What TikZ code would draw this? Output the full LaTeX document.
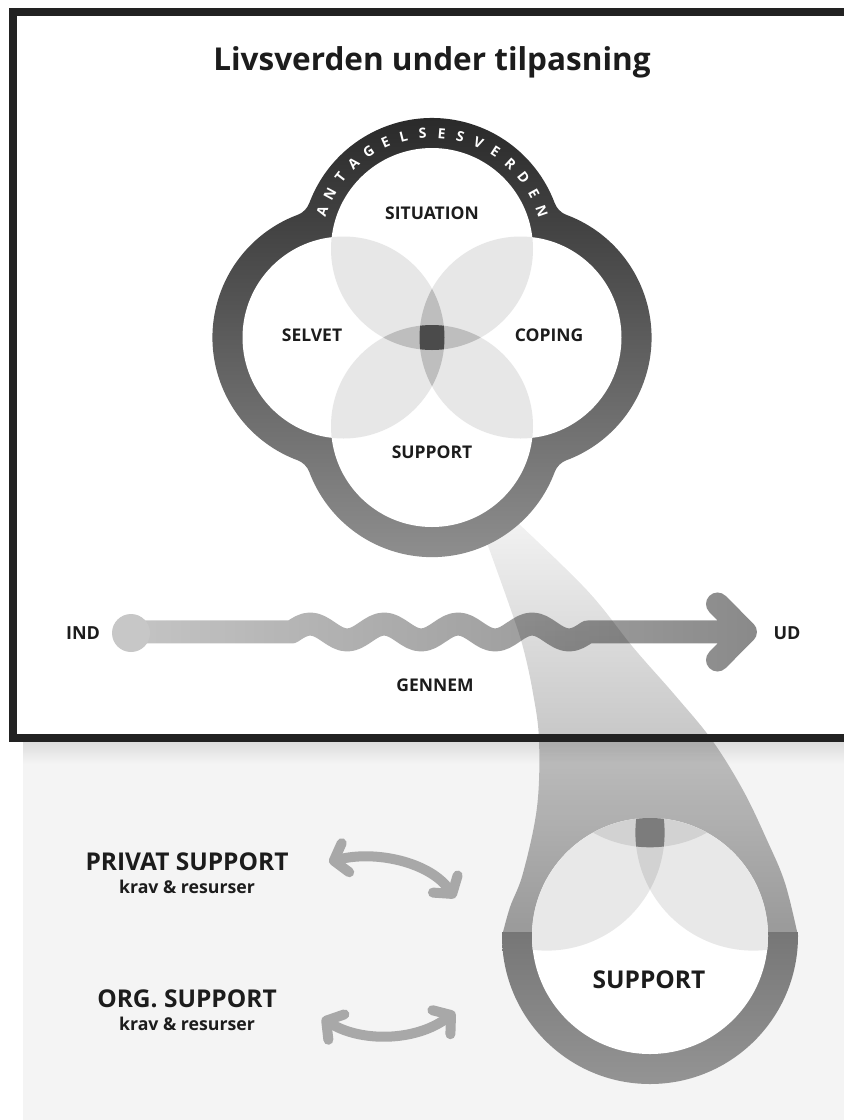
\documentclass[tikz,border=0pt]{standalone}
\usepackage{fontspec}
\setmainfont{Open Sans}
\usetikzlibrary{calc,arrows.meta,fadings}

\definecolor{framec}{HTML}{222222}
\definecolor{panel}{HTML}{F4F4F4}
\definecolor{panelshadow}{HTML}{DCDCDC}
\definecolor{ringtop}{HTML}{262626}
\definecolor{ringmid}{HTML}{414141}
\definecolor{ringbot}{HTML}{929292}
\definecolor{ovA}{HTML}{E7E7E7}
\definecolor{ovB}{HTML}{BEBEBE}
\definecolor{ovC}{HTML}{4B4B4B}
\definecolor{zovA}{HTML}{E8E8E8}
\definecolor{zovB}{HTML}{D2D2D2}
\definecolor{zovC}{HTML}{7C7C7C}
\definecolor{arrowc}{HTML}{8A8A8A}
\definecolor{startc}{HTML}{C7C7C7}
\definecolor{dblc}{HTML}{A8A8A8}
\definecolor{zringtop}{HTML}{5A5A5A}
\definecolor{zringbot}{HTML}{949494}
\definecolor{txt}{HTML}{1C1C1C}

\tikzfading[name=arrowfade, left color=transparent!51, right color=transparent!0]
\tikzfading[name=funnelfade, top color=transparent!95, bottom color=transparent!63]

\begin{document}
\begin{tikzpicture}[x=1pt,y=-1pt,
  lbl/.style={font=\bfseries\fontsize{17.5pt}{20pt}\selectfont, text=txt, inner sep=0pt, anchor=base},
  biglbl/.style={font=\bfseries\fontsize{24.5pt}{28pt}\selectfont, text=txt, inner sep=0pt, anchor=base},
  sublbl/.style={font=\bfseries\fontsize{17.7pt}{20pt}\selectfont, text=txt, inner sep=0pt, anchor=base},
  arcletter/.style={font=\bfseries\fontsize{14pt}{15pt}\selectfont, text=white, inner sep=0pt},
  band/.style={line width=23pt, line cap=round, line join=round},
  dblarrow/.style={draw=dblc, line width=10pt,
     {Straight Barb[length=12pt,width=30pt,round]}-{Straight Barb[length=12pt,width=30pt,round]}},
]
\useasboundingbox (0,0) rectangle (844,1120);
\clip (0,0) rectangle (844,1120);
\fill[white] (0,0) rectangle (844,1120);

% lower panel
\fill[panel] (23,741) rectangle (844,1120);
\shade[top color=panelshadow, bottom color=panel] (23,741) rectangle (844,764);

% IND -> UD arrow
\draw[band, arrowc, path fading=arrowfade] (131,632) -- (292,632)
  sin (310.5,624) cos (329,632) sin (347.5,640) cos (366,632)
  sin (384.5,624) cos (403,632) sin (421.5,640) cos (440,632)
  sin (458.5,624) cos (477,632) sin (495.5,640) cos (514,632)
  sin (532.5,624) cos (551,632) sin (569.5,640) cos (588,632)
  -- (746,632)
  (718,604) -- (746,632) -- (718,660);
\fill[startc] (131,633) circle[radius=19];

% funnel
\fill[black, path fading=funnelfade]
  plot[smooth, tension=0.6] coordinates {(486,540) (510,607) (523,647) (533,693) (539,740) (537,807) (523,873) (510,907) (502,936)}
  -- plot[smooth, tension=0.6] coordinates {(798,936) (785,883) (767,840) (743,790) (712,740) (675,695) (633,647) (587,590) (515,520)}
  -- cycle;

% frame (open to the right)
\draw[framec, line width=8pt, line join=miter, line cap=butt] (848,11.5) -- (13,11.5) -- (13,737.5) -- (848,737.5);

% clover
\coordinate (T) at (432,249);
\coordinate (B) at (432,426);
\coordinate (L) at (343.5,337.5);
\coordinate (R) at (520.5,337.5);
\shade[top color=ringtop, middle color=ringmid, bottom color=ringbot]
  ([shift={(-159.5:131)}]T)
  arc[start angle=-159.5, end angle=-20.5, radius=131]
  arc[start angle=159.5, end angle=110.5, radius=20]
  arc[start angle=-69.5, end angle=69.5, radius=131]
  arc[start angle=249.5, end angle=200.5, radius=20]
  arc[start angle=20.5, end angle=159.5, radius=131]
  arc[start angle=339.5, end angle=290.5, radius=20]
  arc[start angle=110.5, end angle=249.5, radius=131]
  arc[start angle=69.5, end angle=20.5, radius=20] -- cycle;
\fill[white] (T) circle[radius=101] (B) circle[radius=101] (L) circle[radius=101] (R) circle[radius=101];
\begin{scope}
  \clip (T) circle[radius=101];
  \fill[ovA] (L) circle[radius=101] (R) circle[radius=101];
\end{scope}
\begin{scope}
  \clip (B) circle[radius=101];
  \fill[ovA] (L) circle[radius=101] (R) circle[radius=101];
\end{scope}
\begin{scope}
  \clip (T) circle[radius=101];
  \fill[ovB] (B) circle[radius=101];
\end{scope}
\begin{scope}
  \clip (L) circle[radius=101];
  \fill[ovB] (R) circle[radius=101];
\end{scope}
\begin{scope}
  \clip (T) circle[radius=101];
  \clip (B) circle[radius=101];
  \clip (L) circle[radius=101];
  \fill[ovC] (R) circle[radius=101];
\end{scope}

% arc lettering
\foreach \ch [count=\i from 0] in {A,N,T,A,G,E,L,S,E,S,V,E,R,D,E,N} {
  \pgfmathsetmacro\ang{-161+\i*9.4667}
  \pgfmathsetmacro\rot{-(\ang)-90}
  \node[arcletter, rotate=\rot] (a\i) at ([shift={(\ang:116)}]T) {\ch};
}

% zoomed support circle
\coordinate (Z) at (650,936);
\coordinate (ZL) at (546.6,832.6);
\coordinate (ZR) at (753.4,832.6);
\coordinate (ZT) at (650,729.3);
\begin{scope}
  \clip (470,932) rectangle (830,1100);
  \shade[top color=zringtop, middle color=zringtop, bottom color=zringbot] (Z) circle[radius=148];
\end{scope}
\fill[white] (Z) circle[radius=118];
\begin{scope}
  \clip (Z) circle[radius=118];
  \fill[zovA] (ZL) circle[radius=118] (ZR) circle[radius=118];
  \fill[zovB] (ZT) circle[radius=118];
  \begin{scope}
    \clip (ZL) circle[radius=118];
    \fill[zovB] (ZR) circle[radius=118];
  \end{scope}
  \begin{scope}
    \clip (ZT) circle[radius=118];
    \clip (ZL) circle[radius=118];
    \fill[zovC] (ZR) circle[radius=118];
  \end{scope}
\end{scope}

% double arrows
\coordinate (p1a) at (329,862);
\coordinate (p1b) at (455,898);
\coordinate (p2a) at (322,1018);
\coordinate (p2b) at (455,1012);
\draw[dblarrow] (p1a) .. controls (375,850) and (430,862) .. (p1b);
\draw[dblarrow] (p2a) .. controls (360,1042) and (415,1042) .. (p2b);

% texts
\node[font=\bfseries\fontsize{31.5pt}{36pt}\selectfont, text=txt, inner sep=0pt, anchor=base] (title) at (432,70) {Livsverden under tilpasning};
\node[lbl] (sit) at (432,219) {SITUATION};
\node[lbl] (sel) at (312,341) {SELVET};
\node[lbl] (cop) at (549,341) {COPING};
\node[lbl] (sup) at (432,458) {SUPPORT};
\node[lbl, font=\bfseries\fontsize{18pt}{20pt}\selectfont] (ind) at (83,639.5) {IND};
\node[lbl, font=\bfseries\fontsize{18pt}{20pt}\selectfont] (ud) at (787,639.5) {UD};
\node[lbl] (gen) at (435,691.5) {GENNEM};
\node[biglbl] (priv) at (187,870) {PRIVAT SUPPORT};
\node[sublbl] (k1) at (187,893) {krav \& resurser};
\node[biglbl] (org) at (187,1007) {ORG. SUPPORT};
\node[sublbl] (k2) at (187,1030) {krav \& resurser};
\node[biglbl] (zsup) at (649,988) {SUPPORT};
\end{tikzpicture}
\end{document}
